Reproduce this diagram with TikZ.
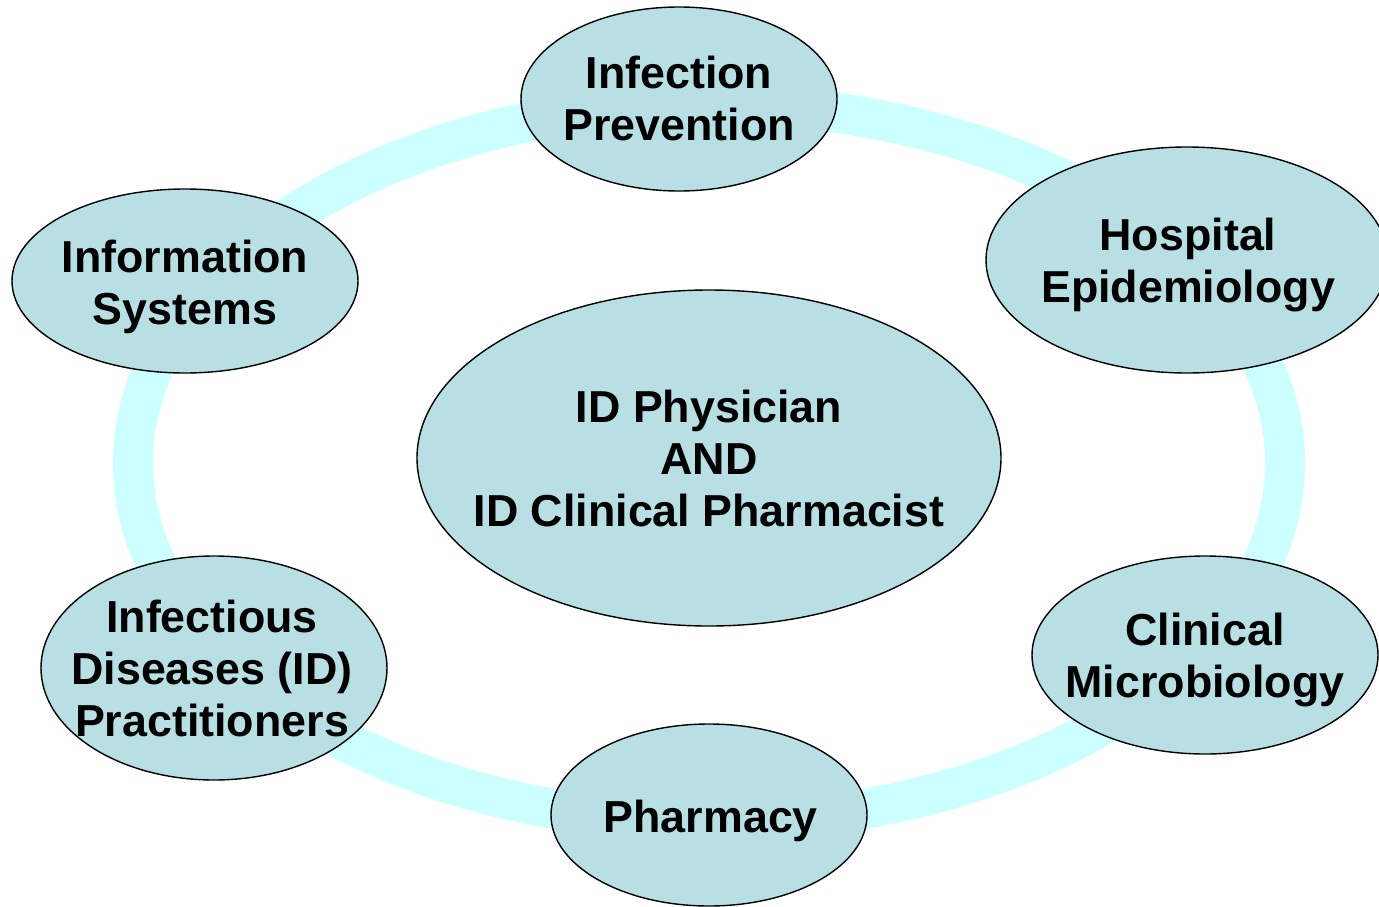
\documentclass[tikz,border=0pt]{standalone}
\usepackage{fontspec}
\setmainfont{Liberation Sans}
\usetikzlibrary{shapes.geometric}

\definecolor{ringcyan}{HTML}{CCFFFF}
\definecolor{blobfill}{HTML}{B8DFE3}

\begin{document}
\begin{tikzpicture}[x=0.02cm, y=-0.02cm,
  blob/.style={ellipse, draw=black, line width=0.8pt, fill=blobfill, inner sep=0pt},
  lbl/.style={align=center, font=\fontsize{25.5}{29.6}\selectfont\bfseries}
]
  \useasboundingbox (0,0) rectangle (1379,906);

  % the ring behind everything
  \draw[ringcyan, line width=0.8cm] (709,463) ellipse (576 and 359);

  % centre plus the six partners around the ring (last two: text nudge)
  \foreach \nm/\cx/\cy/\rx/\ry/\tx/\ty/\txt in {
    core/709/458/292/168/0/0/{ID Physician\\AND\\ID Clinical Pharmacist},
    infprev/679/99/158/92/0/-1/{Infection\\Prevention},
    hospepi/1187/260/201/113/1/5/{Hospital\\Epidemiology},
    infosys/185/281/173/92/0/6/{Information\\Systems},
    idprac/214/668/173/112/-2/0/{Infectious\\Diseases (ID)\\Practitioners},
    climicro/1205/655/173/99/0/5/{Clinical\\Microbiology},
    pharm/709/815/158/91/8/6/{Pharmacy}
  }{
    \node[blob, minimum width=2*\rx*0.02cm, minimum height=2*\ry*0.02cm] (\nm) at (\cx,\cy) {};
    \node[lbl, xshift=\tx*0.02cm, yshift=-\ty*0.02cm] (\nm-txt) at (\nm) {\txt};
  }
\end{tikzpicture}
\end{document}
